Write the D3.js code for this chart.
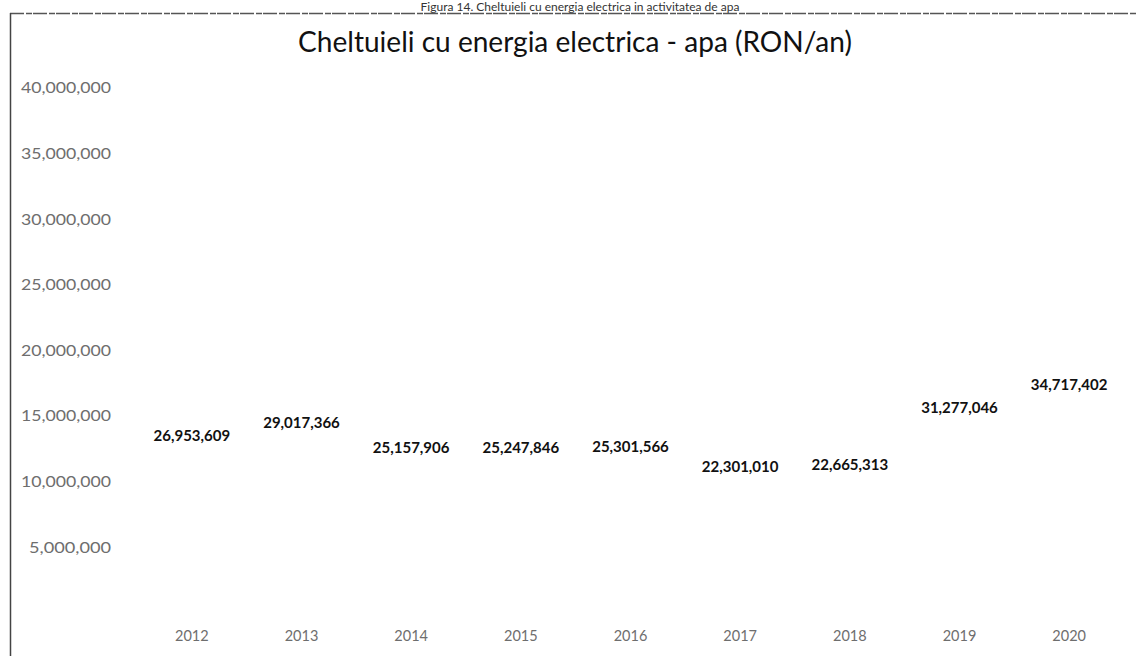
<!DOCTYPE html>
<html>
<head>
<meta charset="utf-8">
<script src="https://cdn.jsdelivr.net/npm/d3@7"></script>
<style>
  html, body { margin: 0; padding: 0; background: #fff; }
  svg { display: block; }
</style>
</head>
<body>
<svg id="chart" width="1137" height="656"></svg>
<script>
const years = ["2012","2013","2014","2015","2016","2017","2018","2019","2020"];
const values = [26953609, 29017366, 25157906, 25247846, 25301566, 22301010, 22665313, 31277046, 34717402];
const yTicks = [5000000, 10000000, 15000000, 20000000, 25000000, 30000000, 35000000, 40000000];
const titleText = "Cheltuieli cu energia electrica - apa (RON/an)";
const captionText = "Figura 14. Cheltuieli cu energia electrica in activitatea de apa";

const svg = d3.select("#chart");
const W = 1137, H = 656;
const plot = { left: 137, right: 1124, top: 88, bottom: 613 };
const font = "Lato, 'Open Sans', 'DejaVu Sans', sans-serif";

svg.append("rect").attr("width", W).attr("height", H).attr("fill", "#fff");

// caption (at the very top, as in the scan)
svg.append("text")
  .attr("x", 580).attr("y", 11)
  .attr("text-anchor", "middle")
  .attr("font-family", font).attr("font-size", 12)
  .attr("fill", "#333")
  .text(captionText);

// frame
svg.append("line").attr("x1", 10).attr("x2", W).attr("y1", 13.5).attr("y2", 13.5)
  .attr("stroke", "#555").attr("stroke-width", 1.5).attr("stroke-dasharray", "14,2,6,1");
svg.append("line").attr("x1", 10.5).attr("x2", 10.5).attr("y1", 13).attr("y2", H)
  .attr("stroke", "#444").attr("stroke-width", 1.5);

// title
const title = svg.append("text")
  .attr("x", 575).attr("y", 52)
  .attr("text-anchor", "middle")
  .attr("font-family", font).attr("font-size", 22)
  .attr("fill", "#111")
  .text(titleText);
const tl = title.node().getComputedTextLength();
title.attr("font-size", 22 * 554 / tl);

const x = d3.scaleBand().domain(years).range([plot.left, plot.right]).paddingInner(0.5).paddingOuter(0.25);
const y = d3.scaleLinear().domain([0, 40000000]).range([plot.bottom, plot.top]);

// bars (invisible in the scanned reference: white fill)
svg.append("g").selectAll("rect").data(values).join("rect")
  .attr("x", (d, i) => x(years[i]))
  .attr("width", x.bandwidth())
  .attr("y", d => y(d))
  .attr("height", d => y(0) - y(d))
  .attr("fill", "#fff");

// y axis
const yAxis = svg.append("g")
  .attr("transform", `translate(${111},0)`)
  .call(d3.axisLeft(y).tickValues(yTicks).tickSize(0).tickPadding(0).tickFormat(d3.format(",")));
yAxis.select(".domain").remove();
yAxis.selectAll("text")
  .attr("font-family", font).attr("font-size", 15)
  .attr("fill", "#6e6e6e")
  .attr("textLength", 90)
  .attr("lengthAdjust", "spacingAndGlyphs");
yAxis.selectAll("text").filter(d => d < 10000000).attr("textLength", 82);

// x axis
const xAxis = svg.append("g")
  .attr("transform", `translate(0,${plot.bottom})`)
  .call(d3.axisBottom(x).tickSize(0).tickPadding(18));
xAxis.select(".domain").remove();
xAxis.selectAll("text")
  .attr("font-family", font).attr("font-size", 14.5)
  .attr("fill", "#6e6e6e");

// value labels at bar centre
const fmt = d3.format(",");
svg.append("g").selectAll("text").data(values).join("text")
  .attr("x", (d, i) => x(years[i]) + x.bandwidth() / 2)
  .attr("y", d => y(d / 2))
  .attr("dy", "0.35em")
  .attr("text-anchor", "middle")
  .attr("font-family", font).attr("font-size", 15).attr("font-weight", "bold")
  .attr("fill", "#111")
  .text(d => fmt(d));
</script>
</body>
</html>
